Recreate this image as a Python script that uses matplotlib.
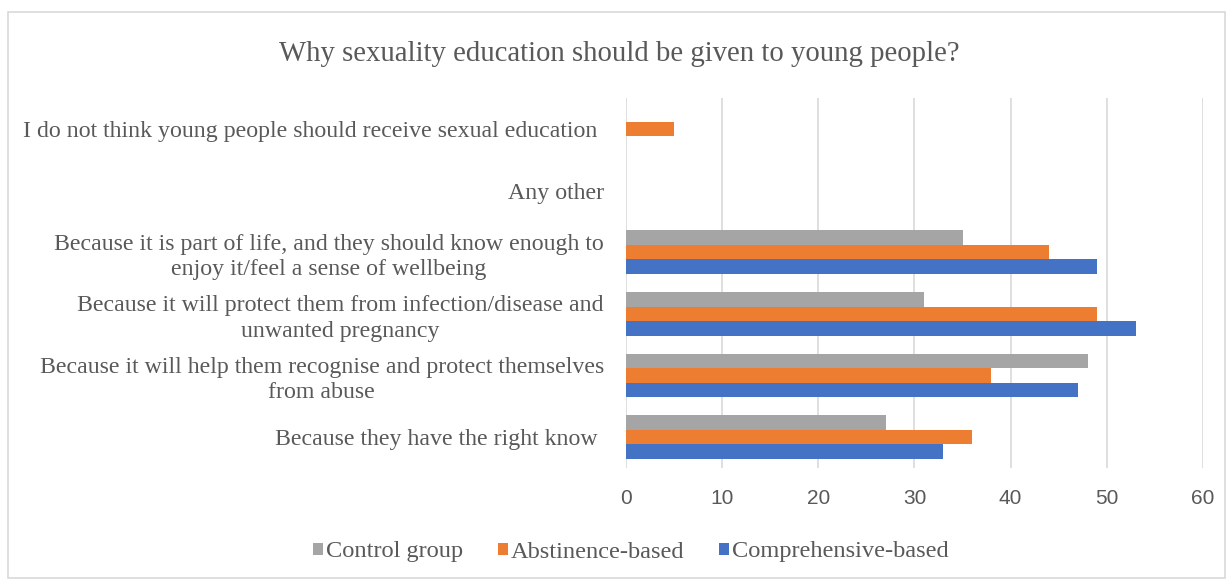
import numpy as np
import matplotlib.pyplot as plt
from matplotlib.patches import Rectangle

# data
categories = [
    "Because they have the right know ",
    "Because it will help them recognise and protect themselves\nfrom abuse",
    "Because it will protect them from infection/disease and\nunwanted pregnancy",
    "Because it is part of life, and they should know enough to\nenjoy it/feel a sense of wellbeing",
    "Any other",
    "I do not think young people should receive sexual education ",
]
control = [27, 48, 31, 35, 0, 0]
abstinence = [36, 38, 49, 44, 0, 5]
comprehensive = [33, 47, 53, 49, 0, 0]
xticks = [0, 10, 20, 30, 40, 50, 60]

c_gray = "#A5A5A5"
c_orange = "#ED7D31"
c_blue = "#4472C4"
txt = "#595959"

fig = plt.figure(figsize=(12.32, 5.82), dpi=100)
ax = fig.add_axes([626 / 1232, 1 - 468 / 582, (1203 - 626) / 1232, 370 / 582])

y = np.arange(len(categories))
h = 0.235
ax.barh(y + h, control, height=h, color=c_gray, label="Control group")
ax.barh(y, abstinence, height=h, color=c_orange, label="Abstinence-based")
ax.barh(y - h, comprehensive, height=h, color=c_blue, label="Comprehensive-based")

ax.set_xlim(0, 60)
ax.set_ylim(-0.5, len(categories) - 0.5)
ax.set_xticks(xticks)
ax.set_xticklabels([str(t) for t in xticks], family="Liberation Sans", fontsize=15, color=txt)
ax.set_yticks(y)
ax.set_yticklabels(categories, family="Liberation Serif", fontsize=17.2, color=txt)
for lab in ax.get_yticklabels():
    lab.set_multialignment("center")
    lab.set_linespacing(1.27)
ax.tick_params(axis="both", length=0)
ax.tick_params(axis="y", pad=16)
ax.tick_params(axis="x", pad=15)
ax.grid(axis="x", color="#D9D9D9", linewidth=1.2)
ax.set_axisbelow(True)
for s in ax.spines.values():
    s.set_visible(False)

fig.text(619 / 1232, 1 - 54 / 582, "Why sexuality education should be given to young people?",
         ha="center", va="center", family="Liberation Serif", fontsize=20.7, color=txt)

handles, labels = ax.get_legend_handles_labels()
fig.legend(handles, labels, loc="center", bbox_to_anchor=(631 / 1232, 1 - 552 / 582), ncol=3,
           frameon=False, prop={"family": "Liberation Serif", "size": 17.6},
           labelcolor=txt, handlelength=0.4, handleheight=0.4, handletextpad=0.15,
           columnspacing=1.4)

fig.patches.append(Rectangle((8 / 1232, 1 - 578 / 582), 1217 / 1232, 566 / 582,
                             transform=fig.transFigure, fill=False,
                             edgecolor="#D9D9D9", linewidth=1.2))

fig.savefig("out.png", dpi=100)
